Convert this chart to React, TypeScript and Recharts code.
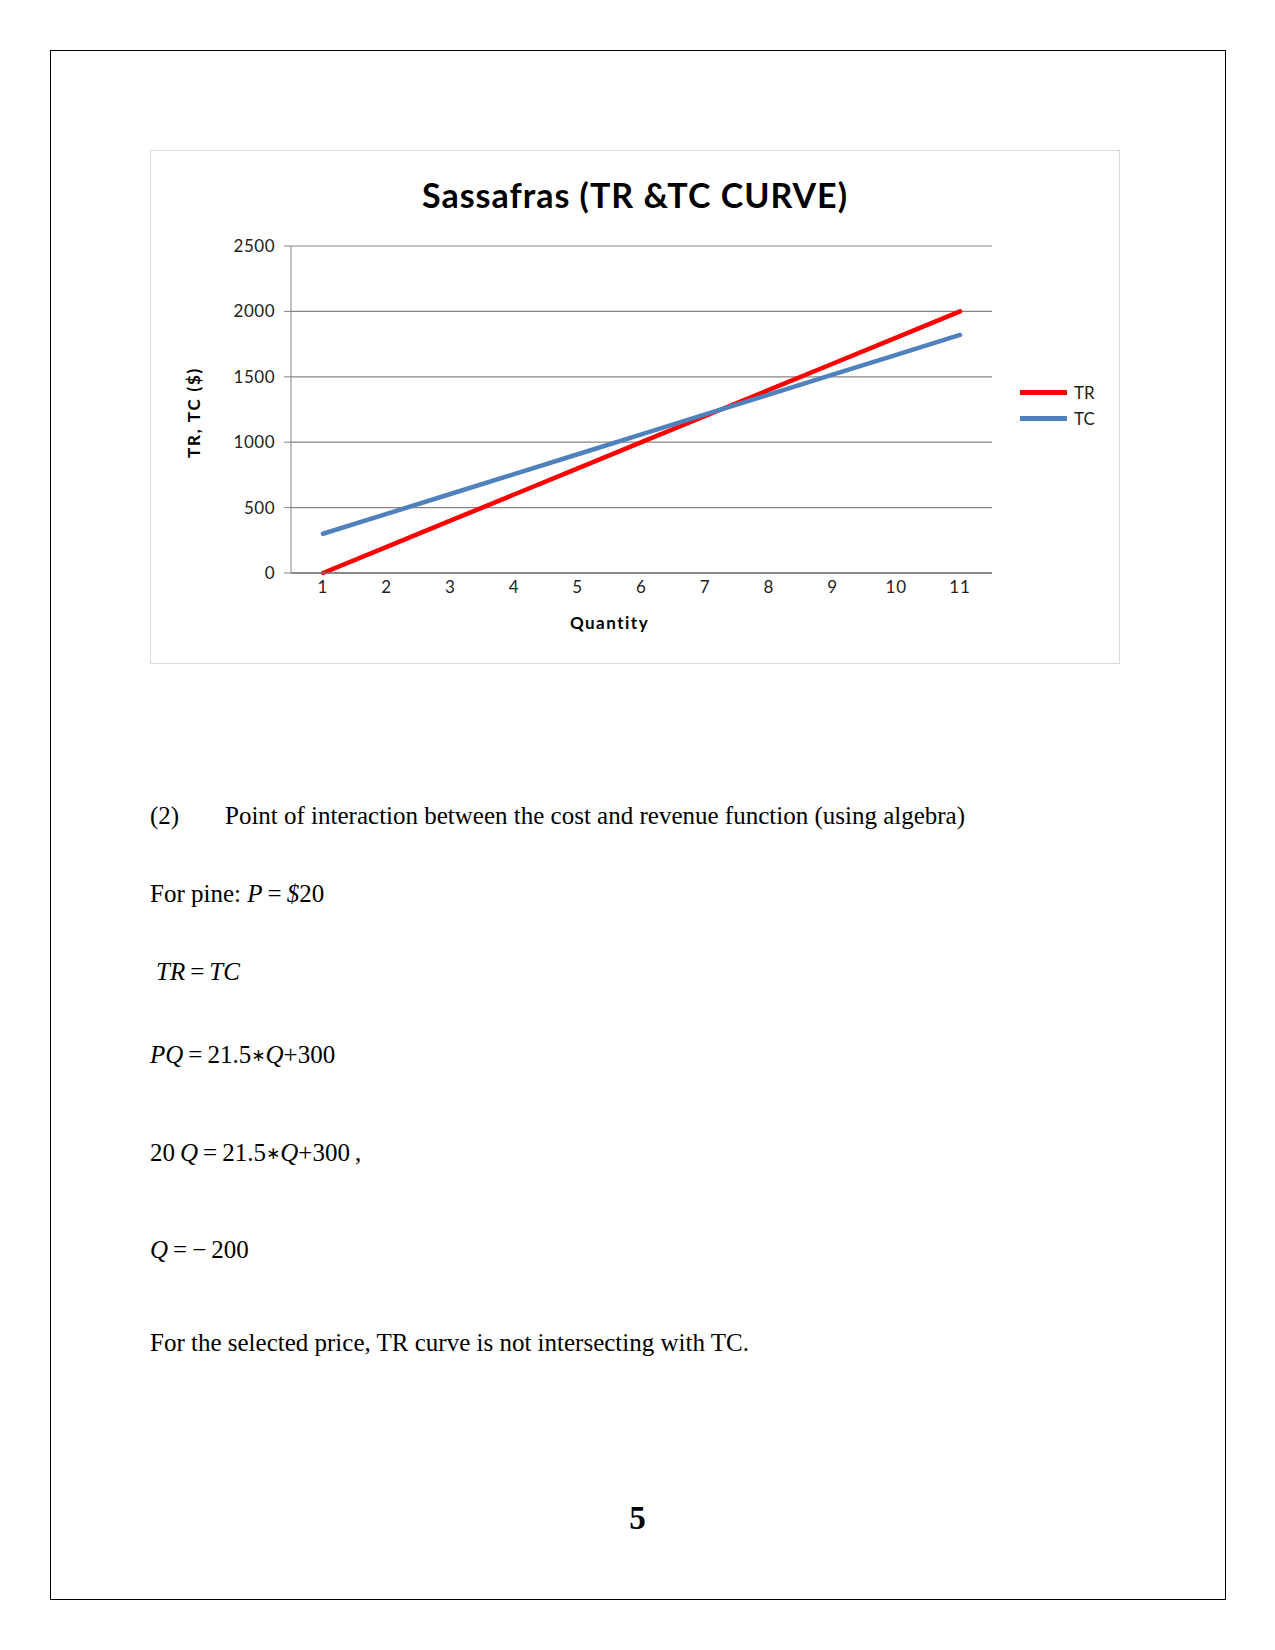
import React from 'react';
import { LineChart, Line, XAxis, YAxis, CartesianGrid, Legend, Label } from 'recharts';

const quantities = ['1', '2', '3', '4', '5', '6', '7', '8', '9', '10', '11'];
const trValues = [0, 200, 400, 600, 800, 1000, 1200, 1400, 1600, 1800, 2000];
const tcValues = [300, 452, 604, 756, 908, 1060, 1212, 1364, 1516, 1668, 1820];
const yTicks = [0, 500, 1000, 1500, 2000, 2500];
const seriesOrder = ['TR', 'TC'];

const data = quantities.map((q, i) => ({ q, TR: trValues[i], TC: tcValues[i] }));

const chartFont = 'Lato, "Liberation Sans", sans-serif';

const renderLegend = (props: any) => {
  const items = [...(props.payload || [])].sort(
    (a: any, b: any) => seriesOrder.indexOf(a.value) - seriesOrder.indexOf(b.value)
  );
  return (
    <div>
      {items.map((entry: any) => (
        <div key={entry.value} style={{ display: 'flex', alignItems: 'center', height: 26.5 }}>
          <span style={{ display: 'inline-block', width: 47, height: 5, background: entry.color }} />
          <span style={{ marginLeft: 7, fontSize: 17, fontFamily: chartFont, color: '#222' }}>{entry.value}</span>
        </div>
      ))}
    </div>
  );
};

const ts = '\u2009';
const ast = (
  <span style={{ fontFamily: '"DejaVu Sans", sans-serif', fontSize: 17, position: 'relative', top: -2 }}>∗</span>
);

const textLine = (top: number, left: number, content: React.ReactNode) => (
  <div
    style={{
      position: 'absolute',
      top,
      left,
      fontSize: 25,
      lineHeight: '26px',
      whiteSpace: 'nowrap',
      color: '#000',
    }}
  >
    {content}
  </div>
);

export default function App() {
  return (
    <div
      style={{
        position: 'absolute',
        left: 0,
        top: 0,
        width: 1275,
        height: 1650,
        background: '#fff',
        fontFamily: '"Liberation Serif", "Times New Roman", serif',
      }}
    >
      {/* page border */}
      <div
        style={{
          position: 'absolute',
          left: 50,
          top: 50,
          width: 1176,
          height: 1550,
          border: '1px solid #000',
          boxSizing: 'border-box',
        }}
      />

      {/* chart frame */}
      <div
        style={{
          position: 'absolute',
          left: 150,
          top: 150,
          width: 970,
          height: 514,
          border: '1px solid #d9d9d9',
          boxSizing: 'border-box',
        }}
      >
        <div
          style={{
            position: 'absolute',
            left: 0,
            top: 27,
            width: 968,
            textAlign: 'center',
            fontFamily: chartFont,
            fontWeight: 700,
            fontSize: 34,
            lineHeight: '34px',
            letterSpacing: 1,
            color: '#000',
          }}
        >
          Sassafras (TR &amp;TC CURVE)
        </div>
        <LineChart width={968} height={512} data={data} margin={{ top: 95, right: 127, bottom: 0, left: 0 }}>
          <CartesianGrid horizontal vertical={false} stroke="#868686" strokeWidth={1.2} />
          <XAxis
            dataKey="q"
            height={90}
            padding={{ left: 32, right: 32 }}
            tickLine={false}
            axisLine={{ stroke: '#777', strokeWidth: 1.5 }}
            tick={{ fill: '#222', fontSize: 17, fontFamily: chartFont, letterSpacing: 1 }}
            interval={0}
          >
            <Label
              value="Quantity"
              position="center"
              dx={-32}
              dy={5}
              style={{ fontFamily: chartFont, fontWeight: 700, fontSize: 17, letterSpacing: 1.5, fill: '#000' }}
            />
          </XAxis>
          <YAxis
            width={140}
            domain={[0, 2500]}
            ticks={yTicks}
            interval={0}
            tickSize={7}
            tickMargin={9}
            tickLine={{ stroke: '#868686' }}
            axisLine={{ stroke: '#868686' }}
            tick={{ fill: '#222', fontSize: 17, fontFamily: chartFont, letterSpacing: 0.5 }}
          >
            <Label
              value="TR, TC ($)"
              position="center"
              angle={-90}
              dx={-27}
              dy={3}
              style={{ fontFamily: chartFont, fontWeight: 700, fontSize: 17, letterSpacing: 1.8, fill: '#000' }}
            />
          </YAxis>
          <Legend
            layout="vertical"
            align="center"
            verticalAlign="middle"
            content={renderLegend}
            wrapperStyle={{ left: 869, top: 228, width: 90 }}
          />
          <Line
            type="linear"
            dataKey="TR"
            stroke="#FF0000"
            strokeWidth={4.5}
            strokeLinecap="round"
            dot={false}
            isAnimationActive={false}
          />
          <Line
            type="linear"
            dataKey="TC"
            stroke="#4F81BD"
            strokeWidth={4.5}
            strokeLinecap="round"
            dot={false}
            isAnimationActive={false}
          />
        </LineChart>
      </div>

      {textLine(803, 150, (
        <span>
          <span style={{ display: 'inline-block', width: 75 }}>(2)</span>Point of interaction between the cost and revenue function (using algebra)
        </span>
      ))}
      {textLine(881, 150, (
        <span>
          For pine: <i>P</i>{ts}={ts}<i>$</i>20
        </span>
      ))}
      {textLine(959, 156, (
        <span>
          <i>TR</i>{ts}={ts}<i>TC</i>
        </span>
      ))}
      {textLine(1042, 150, (
        <span>
          <i>PQ</i>{ts}={ts}21.5{ast}<i>Q</i>+300
        </span>
      ))}
      {textLine(1140, 150, (
        <span>
          20{ts}<i>Q</i>{ts}={ts}21.5{ast}<i>Q</i>+300{ts},
        </span>
      ))}
      {textLine(1237, 150, (
        <span>
          <i>Q</i>{ts}={ts}−{ts}200
        </span>
      ))}
      {textLine(1330, 150, <span>For the selected price, TR curve is not intersecting with TC.</span>)}

      <div
        style={{
          position: 'absolute',
          left: 0,
          width: 1275,
          top: 1500,
          textAlign: 'center',
          fontSize: 33,
          lineHeight: '36px',
          fontWeight: 700,
        }}
      >
        5
      </div>
    </div>
  );
}
